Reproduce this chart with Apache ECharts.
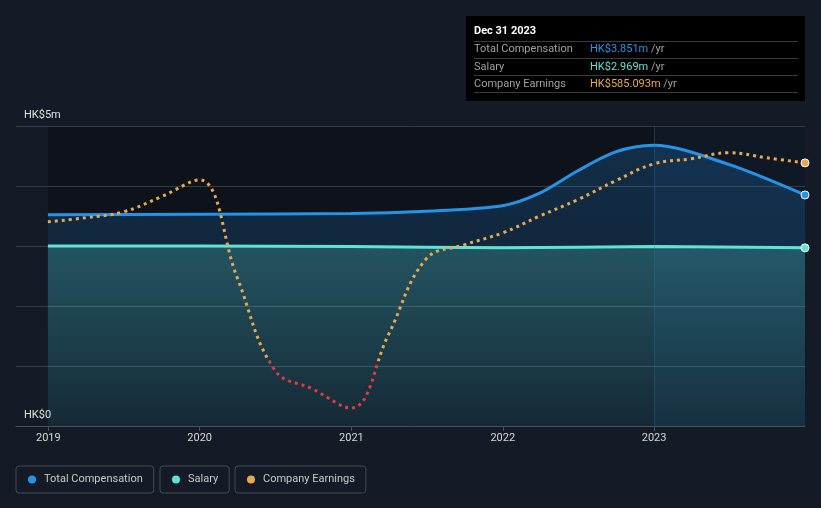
<!DOCTYPE html>
<html>
<head>
<meta charset="utf-8">
<script src="https://cdn.jsdelivr.net/npm/echarts@6/dist/echarts.min.js"></script>
<style>
html,body{margin:0;padding:0;background:#151b26;}
#chart{width:821px;height:508px;}
</style>
</head>
<body>
<div id="chart"></div>
<script>
// ---- data (HK$ millions) ----
const compDates = ['2018-12-31','2019-12-31','2020-12-31','2021-06-30','2021-12-31','2022-03-31','2022-06-30','2022-09-30','2022-12-31','2023-06-30','2023-12-31'];
const compValues = [3.52, 3.53, 3.54, 3.58, 3.67, 3.88, 4.25, 4.57, 4.68, 4.36, 3.851];

const salaryDates = ['2018-12-31','2019-12-31','2020-12-31','2021-12-31','2022-12-31','2023-12-31'];
const salaryValues = [3.00, 3.00, 2.99, 2.97, 2.99, 2.969];

const earnDates = ['2018-12-31','2019-03-31','2019-06-30','2019-09-30','2019-12-31','2020-03-31','2020-06-30','2020-09-30','2020-12-31','2021-03-31','2021-06-30','2021-09-30','2021-12-31','2022-03-31','2022-06-30','2022-09-30','2022-12-31','2023-03-31','2023-06-30','2023-09-30','2023-12-31'];
const earnValues = [411, 423, 440, 485, 535, 248, -27, -83, -139, 77, 301, 343, 378, 428, 476, 532, 582, 597, 615, 600, 585.093];

const yTickLabels = {0: 'HK$0', 5: 'HK$5m'};
const legendNames = ['Total Compensation', 'Salary', 'Company Earnings'];
const tipTitle = 'Dec 31 2023';
const tipLabels = ['Total Compensation', 'Salary', 'Company Earnings'];
const tipValues = ['HK$3.851m', 'HK$2.969m', 'HK$585.093m'];
const plotStart = '2018-12-31', plotEnd = '2023-12-31', bandStart = '2023-01-01';

// ---- styles ----
const C_COMP = '#2394e8';
const C_SAL = '#5fe3d5';
const C_EARN = '#e9a94f';
const C_NEG = '#e5393e';
const FONT = 'Roboto, "Noto Sans", sans-serif';

const zip = (d, v) => d.map((x, i) => [x, v[i]]);
const endSymbol = (n) => (val, p) => p.dataIndex === n - 1 ? 8 : 0;
const vGrad = (c0, c1) => ({type: 'linear', x: 0, y: 0, x2: 0, y2: 1, colorStops: [{offset: 0, color: c0}, {offset: 1, color: c1}]});

const chart = echarts.init(document.getElementById('chart'), null, {renderer: 'canvas'});

const tipX = 466, tipY = 16, tipW = 339, tipH = 85;
const rowY = [49.5, 67, 84];
const tipColors = [C_COMP, C_SAL, C_EARN];
const graphics = [
  {type: 'rect', shape: {x: tipX, y: tipY, width: tipW, height: tipH}, style: {fill: '#000000'}, z: 100},
  {type: 'text', x: 474, y: 31, style: {text: tipTitle, fill: '#ffffff', font: 'bold 11px ' + FONT, verticalAlign: 'middle'}, z: 101}
];
[41, 58, 75, 92].forEach(y => graphics.push({type: 'line', shape: {x1: 474, y1: y + 0.5, x2: 798, y2: y + 0.5}, style: {stroke: '#3a3a3a', lineWidth: 1}, z: 101}));
tipLabels.forEach((t, i) => {
  graphics.push({type: 'text', x: 474, y: rowY[i], style: {text: t, fill: '#a0a0a0', font: '11px ' + FONT, verticalAlign: 'middle'}, z: 101});
  graphics.push({type: 'text', x: 590, y: rowY[i], style: {
    text: '{v|' + tipValues[i] + '}{u| /yr}',
    rich: {v: {fill: tipColors[i], font: '11px ' + FONT}, u: {fill: '#a0a0a0', font: '11px ' + FONT}},
    verticalAlign: 'middle'}, z: 101});
});

function legendAt(name, left) {
  return {
    data: [name], left: left, top: 466,
    orient: 'horizontal', selectedMode: false,
    icon: 'circle', itemWidth: 8, itemHeight: 8,
    itemStyle: {borderWidth: 0},
    borderColor: '#454a54', borderWidth: 1, borderRadius: 3,
    padding: [8, 11, 8, 12],
    textStyle: {color: '#c8c8c8', fontSize: 11, fontFamily: FONT, padding: [0, 0, 0, 3]}
  };
}

const option = {
  backgroundColor: '#151b26',
  animation: false,
  textStyle: {fontFamily: FONT},
  grid: {left: 16, right: 16, top: 126, bottom: 82, containLabel: false},
  legend: [
    legendAt(legendNames[0], 16),
    legendAt(legendNames[1], 160),
    legendAt(legendNames[2], 235)
  ],
  visualMap: {
    type: 'piecewise', show: false, seriesIndex: 4, dimension: 1,
    pieces: [{gte: -1000, lt: 0, color: C_NEG}, {gte: 0, lte: 2000, color: C_EARN}]
  },
  xAxis: {
    type: 'time', z: 8,
    min: '2018-10-15', max: plotEnd,
    minInterval: 365 * 86400000, maxInterval: 366 * 86400000,
    axisLine: {show: true, lineStyle: {color: '#4a4f58', width: 1}},
    axisTick: {show: true, length: 5, lineStyle: {color: '#4a4f58'}},
    splitLine: {show: false},
    axisLabel: {color: '#d6d6d6', fontSize: 11, fontFamily: FONT, margin: 7,
      formatter: v => String(new Date(v).getFullYear())}
  },
  yAxis: [{
    type: 'value', min: 0, max: 5, interval: 1, position: 'left', z: 2,
    axisLine: {show: false}, axisTick: {show: false},
    splitLine: {show: true, lineStyle: {color: '#353b45', width: 1}},
    axisLabel: {inside: true, margin: 8, color: '#e0e0e0', fontSize: 11, fontFamily: FONT,
      verticalAlign: 'bottom', padding: [0, 0, 5, 0],
      formatter: v => yTickLabels[v] || ''}
  }, {
    type: 'value', min: -192, max: 694, show: false, splitLine: {show: false}
  }],
  series: [{
    // darker plot background from the first data point
    type: 'line', data: [], silent: true, z: 1,
    markArea: {silent: true, itemStyle: {color: 'rgba(0,0,0,0.3)'}, data: [[{xAxis: plotStart}, {xAxis: plotEnd}]]}
  }, {
    name: legendNames[0], type: 'line', yAxisIndex: 0,
    data: zip(compDates, compValues), smooth: 0.3,
    showSymbol: true, showAllSymbol: true, symbol: 'circle', symbolSize: endSymbol(compDates.length),
    itemStyle: {color: C_COMP, borderColor: '#ffffff', borderWidth: 1},
    lineStyle: {color: C_COMP, width: 3},
    areaStyle: {color: vGrad('rgba(33,150,243,0.30)', 'rgba(33,150,243,0.10)'), origin: 'start'},
    z: 3
  }, {
    name: legendNames[1], type: 'line', yAxisIndex: 0,
    data: zip(salaryDates, salaryValues), smooth: 0.3,
    showSymbol: true, showAllSymbol: true, symbol: 'circle', symbolSize: endSymbol(salaryDates.length),
    itemStyle: {color: C_SAL, borderColor: '#ffffff', borderWidth: 1},
    lineStyle: {color: C_SAL, width: 3},
    areaStyle: {color: vGrad('rgba(95,227,213,0.34)', 'rgba(95,227,213,0.10)')},
    z: 4
  }, {
    // highlight band for the latest year
    type: 'line', data: [], silent: true, z: 6,
    markArea: {silent: true, itemStyle: {color: 'rgba(40,120,190,0.08)'}, data: [[{xAxis: bandStart}, {xAxis: plotEnd}]]},
    markLine: {silent: true, symbol: 'none', label: {show: false}, lineStyle: {color: 'rgba(50,110,160,0.35)', type: 'solid', width: 1},
      data: [{xAxis: bandStart}]}
  }, {
    name: legendNames[2], type: 'line', yAxisIndex: 1,
    data: zip(earnDates, earnValues), smooth: 0.4,
    showSymbol: true, showAllSymbol: true, symbol: 'circle', symbolSize: endSymbol(earnDates.length),
    itemStyle: {color: C_EARN, borderColor: '#ffffff', borderWidth: 1},
    lineStyle: {width: 3, type: [3, 4], cap: 'butt'},
    z: 7
  }],
  graphic: graphics
};
chart.setOption(option);
</script>
</body>
</html>
